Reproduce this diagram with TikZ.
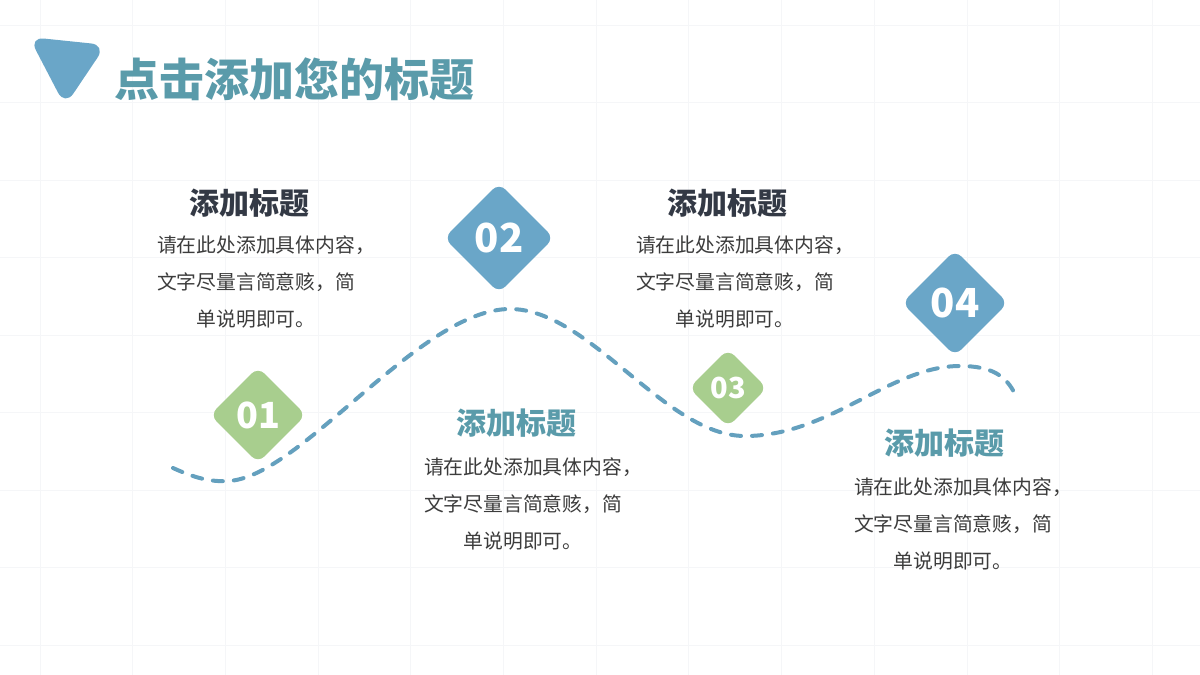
\documentclass[tikz,border=0pt]{standalone}
\usepackage{fontspec}
\setmainfont{Noto Sans CJK SC}
\usetikzlibrary{shapes.geometric}

\definecolor{stepblue}{HTML}{6AA6C8}
\definecolor{stepgreen}{HTML}{A8CE8E}
\definecolor{waveblue}{HTML}{64A0BE}
\definecolor{titleteal}{HTML}{5A9BAA}
\definecolor{headdark}{HTML}{333945}
\definecolor{bodygray}{HTML}{3C3C3C}
\definecolor{gridgray}{HTML}{F5F6F8}

\newcommand{\stepbody}{请在此处添加具体内容\rlap{，}\\文字尽量言简意赅，简\\单说明即可。}

\begin{document}
\begin{tikzpicture}[x=1pt, y=-1pt,
  gridline/.style={gridgray, line width=1pt},
  numbox/.style={diamond, aspect=1, rounded corners=9pt, inner sep=0pt, text=white},
  headtxt/.style={font=\fontsize{30}{30}\selectfont\bfseries, inner sep=0pt},
  bodytxt/.style={font=\fontsize{19.8}{37}\selectfont, text=bodygray, align=center, inner sep=0pt},
  wave/.style={waveblue, line width=4pt, line cap=round, dash pattern=on 10pt off 11pt},
]

% page and faint grid
\useasboundingbox (0,0) rectangle (1200,675);
\fill[white] (0,0) rectangle (1200,675);
\foreach \gx in {0,...,12}
  \draw[gridline] (40+92.7*\gx,0) -- ++(0,675);
\foreach \gy in {0,...,8}
  \draw[gridline] (0,25+77.5*\gy) -- ++(1200,0);

% title
\fill[stepblue, rounded corners=15pt] (29,37) -- (106,45) -- (65,106) -- cycle;
\node[anchor=west, inner sep=0pt, text=titleteal, font=\fontsize{45}{45}\selectfont\bfseries] (title) at (114,79) {点击添加您的标题};

% wave
\coordinate (w0) at (173,468);
\coordinate (w1) at (228,481);
\coordinate (w2) at (510,309);
\coordinate (w3) at (745,436);
\coordinate (w4) at (960,366);
\coordinate (w5) at (1015,394);
\draw[wave] (w0) .. controls (195,478) and (210,482) .. (w1)
  .. controls (300,478) and (420,309) .. (w2)
  .. controls (590,309) and (665,436) .. (w3)
  .. controls (830,436) and (890,366) .. (w4)
  .. controls (992,366) and (1006,376) .. (w5);

% steps
\node[numbox, fill=stepgreen, minimum size=96pt, font=\fontsize{36}{36}\selectfont\bfseries] (s1) at (258,415) {01};
\node[numbox, fill=stepblue, minimum size=110pt, font=\fontsize{40}{40}\selectfont\bfseries] (s2) at (499,238) {02};
\node[numbox, fill=stepgreen, minimum size=78pt, font=\fontsize{29}{29}\selectfont\bfseries] (s3) at (728,388) {03};
\node[numbox, fill=stepblue, minimum size=106pt, font=\fontsize{40}{40}\selectfont\bfseries] (s4) at (955,303) {04};

% texts
\node[headtxt, text=headdark] (h1) at (249,203) {添加标题};
\node[bodytxt] (b1) at (256,282) {\stepbody};

\node[headtxt, text=titleteal] (h2) at (516,423) {添加标题};
\node[bodytxt] (b2) at (523,504) {\stepbody};

\node[headtxt, text=headdark] (h3) at (727,203) {添加标题};
\node[bodytxt] (b3) at (735,282) {\stepbody};

\node[headtxt, text=titleteal] (h4) at (944,443) {添加标题};
\node[bodytxt] (b4) at (953,524) {\stepbody};

\end{tikzpicture}
\end{document}
